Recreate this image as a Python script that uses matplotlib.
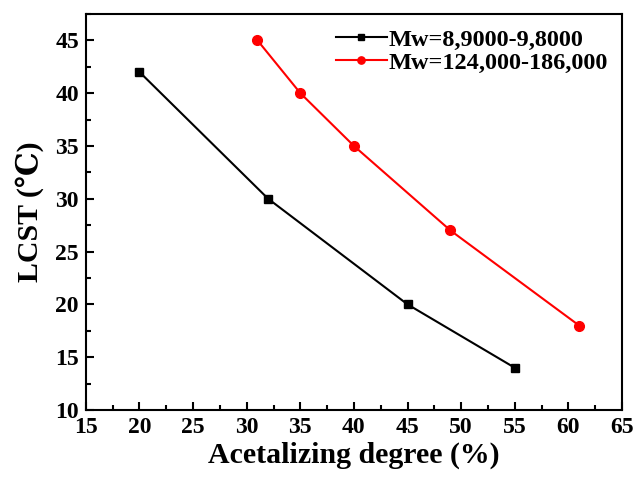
import matplotlib
matplotlib.use('Agg')
import matplotlib.pyplot as plt
from matplotlib.ticker import MultipleLocator

# data
x_low = [20, 32, 45, 55]
lcst_low = [42, 30, 20, 14]
x_high = [31, 35, 40, 49, 61]
lcst_high = [45, 40, 35, 27, 18]

plt.rcParams['font.family'] = ['Liberation Serif', 'DejaVu Serif']
plt.rcParams['font.weight'] = 'bold'

fig = plt.figure(figsize=(6.36, 4.79), dpi=100)
ax = fig.add_axes([0.135, 0.144, 0.843, 0.827])

ax.plot(x_low, lcst_low, color='black', marker='s', markersize=6, linewidth=1.5,
        label='Mw=8,9000-9,8000')
ax.plot(x_high, lcst_high, color='red', marker='o', markersize=7, linewidth=1.5,
        label='Mw=124,000-186,000')

ax.set_xlim(15, 65)
ax.set_ylim(10, 47.5)
ax.xaxis.set_major_locator(MultipleLocator(5))
ax.xaxis.set_minor_locator(MultipleLocator(2.5))
ax.yaxis.set_major_locator(MultipleLocator(5))
ax.yaxis.set_minor_locator(MultipleLocator(2.5))
ax.tick_params(which='both', direction='in', top=False, right=False, width=1.5)
ax.tick_params(which='major', length=6, labelsize=17, pad=5)
ax.tick_params(which='minor', length=3.5)
for s in ax.spines.values():
    s.set_linewidth(1.5)

ax.set_xlabel('Acetalizing degree (%)', fontsize=21.5, fontweight='bold', labelpad=3)
ax.set_ylabel('LCST (℃)', fontsize=21.5, fontweight='bold', labelpad=8)

ax.legend(loc='upper right', frameon=False, handlelength=2.1, markerscale=0.75,
          handletextpad=0.05, borderaxespad=0.2, labelspacing=0.05,
          prop={'weight': 'bold', 'size': 17.5})

fig.savefig('out.png', dpi=100)
